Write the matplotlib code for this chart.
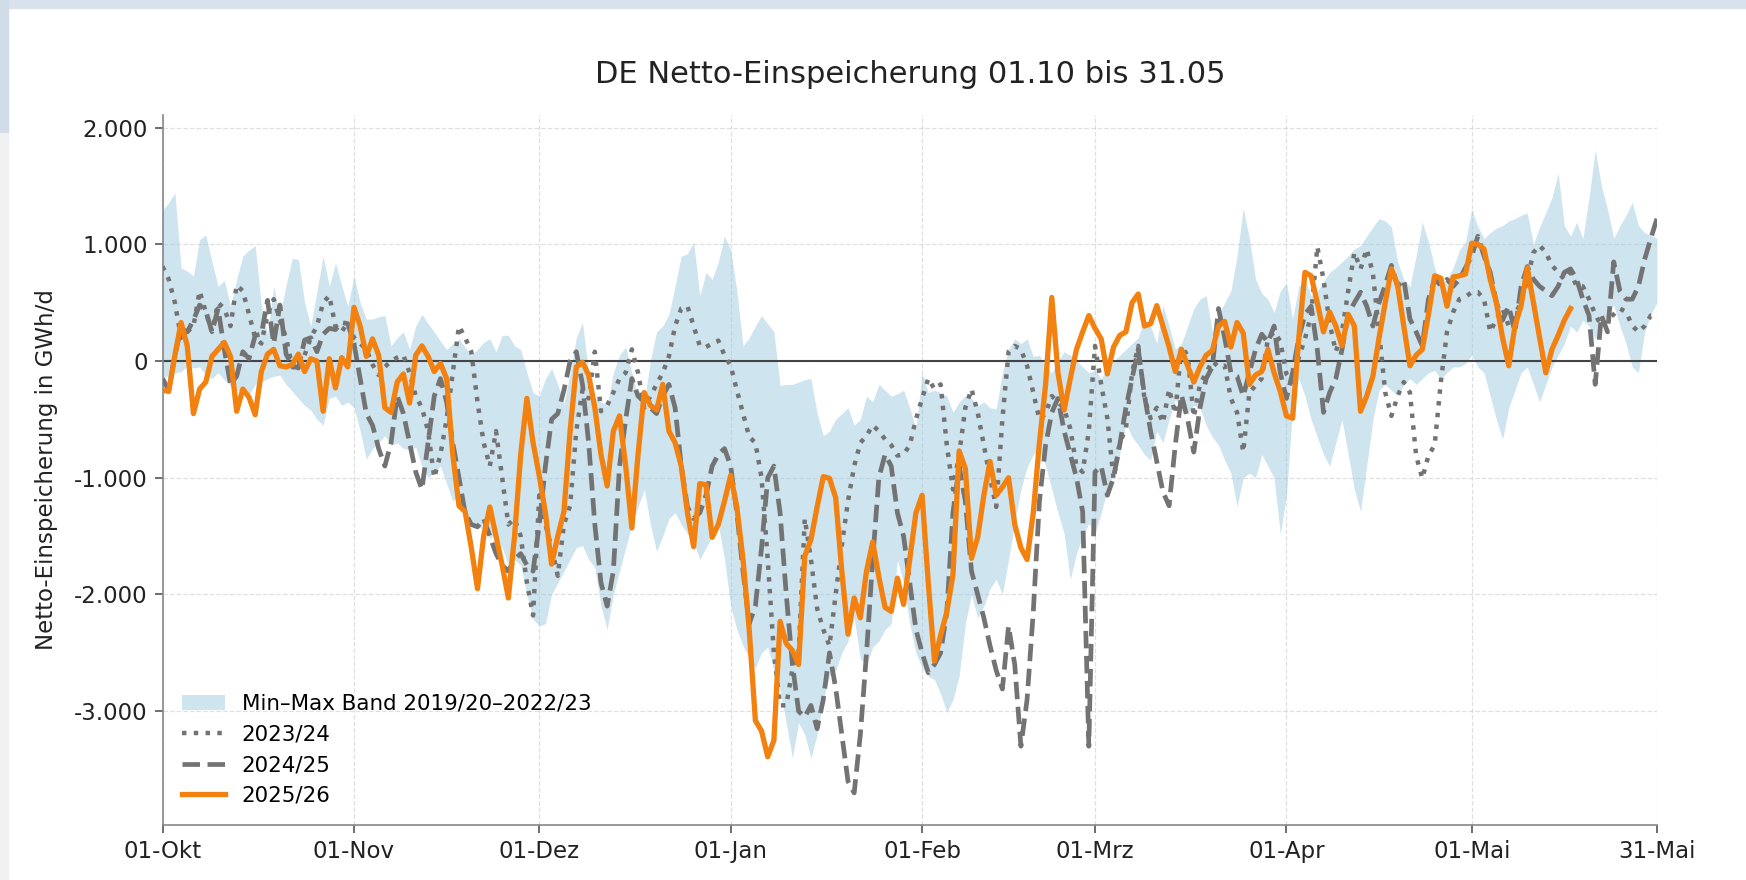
import numpy as np
import pandas as pd
import matplotlib
matplotlib.use("Agg")
import matplotlib.pyplot as plt
from matplotlib.patches import Rectangle
from matplotlib.ticker import FuncFormatter

# daily values in GWh/d, 01.10 .. 31.05
band_max = [
    1290, 1360, 1440, 800, 770, 730, 1040, 1080, 850, 640,
    690, 470, 700, 900, 950, 990, 470, 230, 640, 390,
    650, 880, 870, 500, 300, 600, 900, 640, 840, 650,
    470, 730, 500, 360, 360, 380, 390, 130, 200, 250,
    100, 300, 400, 320, 250, 170, 100, 150, 190, 120,
    45, 100, 160, 190, 80, 220, 220, 130, 100, -100,
    -270, -300, -150, -65, -200, -370, -100, 200, 330, -100,
    -320, -350, -380, -100, 50, 120, -100, -300, -350, 0,
    250, 300, 400, 640, 900, 920, 1020, 560, 760, 700,
    850, 1070, 950, 600, 130, 200, 300, 390, 320, 250,
    -210, -200, -200, -180, -160, -150, -450, -640, -600, -500,
    -450, -400, -550, -500, -300, -350, -200, -250, -300, -280,
    -250, -400, -580, -100, -270, -250, -270, -300, -440, -350,
    -300, -320, -380, -350, -400, -410, -100, 100, 190, 150,
    190, 40, 50, -50, -100, 0, 80, 50, 0, -50,
    -100, -80, -150, -50, 0, 50, 100, 150, 200, 360,
    300, 150, 475, 300, 100, 150, 300, 450, 530, 560,
    250, 400, 500, 600, 900, 1310, 1050, 700, 580, 530,
    415, 600, 670, 360, 640, 700, 560, 600, 680, 760,
    800, 850, 900, 960, 990, 1070, 1150, 1220, 1200, 1150,
    850, 700, 640, 900, 1190, 1020, 800, 640, 700, 800,
    950, 1020, 1300, 1150, 1050, 1100, 1140, 1160, 1200, 1220,
    1250, 1270, 1000, 1150, 1270, 1400, 1610, 1160, 1070, 1190,
    1050, 1400, 1810, 1500, 1300, 1050, 1160, 1250, 1360, 1160,
    1100, 1080, 1050,
]

band_min = [
    -150, -120, -100, -90, -40, -60, -50, -120, -150, -100,
    -160, -210, -250, -270, -290, -200, -180, -150, -130, -120,
    -200, -260, -320, -380, -420, -500, -550, -320, -300, -380,
    -350, -400, -600, -840, -750, -700, -640, -720, -700, -750,
    -760, -740, -900, -1000, -950, -900, -1050, -1200, -1150, -1300,
    -1380, -1410, -1450, -1520, -1480, -1600, -1750, -1700, -1750, -2000,
    -2210, -2270, -2250, -2000, -1900, -1800, -1700, -1600, -1580, -1700,
    -1770, -2100, -2300, -2000, -1800, -1600, -1400, -1250, -1100, -1400,
    -1630, -1500, -1350, -1300, -1400, -1480, -1550, -1700, -1600, -1500,
    -1400, -1700, -2100, -2300, -2440, -2550, -2630, -2500, -2450, -2650,
    -2820, -3100, -3400, -3100, -3200, -3400, -3200, -2900, -2700, -2650,
    -2500, -2400, -2200, -2550, -2600, -2450, -2400, -2300, -2250, -1700,
    -1900, -2250, -2500, -2630, -2700, -2730, -2850, -3010, -2900, -2700,
    -2250, -2000, -2200, -2100, -1950, -1870, -2000, -1700, -1390, -1100,
    -910, -800, -750, -900, -1100, -1300, -1480, -1870, -1650, -1500,
    -1390, -1480, -1300, -1100, -950, -800, -530, -650, -720, -800,
    -850, -600, -700, -500, -330, -420, -450, -380, -400, -550,
    -650, -720, -850, -960, -1245, -1000, -960, -1000, -800, -900,
    -1000, -1480, -1150, -400, -150, -300, -500, -650, -800, -900,
    -700, -500, -800, -1100, -1290, -900, -500, -250, -200, -250,
    -300, -200, -150, -200, -150, -100, -80, -150, -100, -50,
    -50, -20, 50, -50, -100, -300, -500, -670, -400, -250,
    -100, -50, -200, -350, -200, -50, 50, 150, 300, 250,
    350, 300, 190, 300, 400, 480, 300, 150, -50, -100,
    250, 400, 500,
]

s2023_24 = [
    810, 700, 500, 200, 250, 300, 600, 420, 250, 500,
    450, 300, 650, 600, 400, 200, 150, 400, 530, 350,
    200, -50, -70, 50, 200, 300, 500, 560, 300, 250,
    330, 200, 150, 100, -30, -120, -50, 0, 30, 50,
    -100, -300, -400, -600, -1000, -800, -500, -100, 300, 200,
    80, -350, -700, -900, -600, -1000, -1400, -1350, -1500, -1900,
    -2180, -1150, -1400, -1600, -1840, -1400, -1240, -600, -250, -320,
    80, -430, -380, -270, -150, -100, 100, -100, -400, -300,
    -200, -100, 40, 300, 450, 470, 300, 130, 120, 150,
    175, 50, -40, -250, -450, -650, -700, -1000, -1700, -2500,
    -2950, -2950, -2640, -2500, -1350, -1700, -2120, -2300, -2440, -2000,
    -1580, -1200, -900, -700, -640, -550, -600, -670, -720, -810,
    -800, -720, -500, -320, -150, -240, -200, -720, -1100, -800,
    -400, -240, -440, -720, -1000, -1250, -500, 80, 130, 100,
    -40, -270, -500, -450, -300, -350, -410, -580, -900, -950,
    -600, 130, -200, -490, -1010, -700, -580, -100, 130, -320,
    -490, -400, -530, -240, -450, 130, 45, -480, -200, -100,
    0, -50, -40, -320, -440, -780, -270, -210, -150, 190,
    250, 170, -110, -180, 30, 190, 400, 980, 700, 320,
    80, 250, 600, 930, 790, 960, 750, 250, -270, -470,
    -300, -180, -270, -810, -1005, -810, -720, -180, 250, 420,
    530, 550, 590, 590, 530, 250, 360, 450, 300, 400,
    500, 700, 930, 990, 930, 820, 760, 700, 760, 640,
    640, 530, 400, 300, 360, 400, 450, 420, 303, 250,
    300, 390, 390,
]

s2024_25 = [
    -150, -250, 50, 280, 250, 350, 480, 430, 250, 450,
    100, -200, -130, 80, 20, 220, 230, 520, 150, 480,
    60, -40, -60, 180, 200, 80, 230, 280, 270, 330,
    320, 150, -150, -450, -550, -750, -900, -700, -300, -450,
    -700, -950, -1100, -700, -300, -150, -350, -700, -1000, -1300,
    -1400, -1420, -1350, -1500, -1650, -1750, -1800, -1700, -1650, -1750,
    -1800, -1400, -900, -500, -450, -250, 0, 80, -200, -700,
    -1400, -1900, -2100, -1800, -900, -500, -150, -300, -350, -400,
    -450, -300, -200, -400, -900, -1250, -1350, -1300, -1150, -900,
    -800, -750, -900, -1300, -1800, -2250, -2100, -1600, -1000, -900,
    -1300, -2000, -2600, -3000, -3050, -2950, -3150, -2900, -2500, -2800,
    -3200, -3600, -3700, -3200, -2500, -1700, -1000, -800, -900, -1300,
    -1500, -1900, -2300, -2500, -2670, -2600, -2500, -2150, -1300, -900,
    -1200, -1800, -2000, -2200, -2440, -2650, -2810, -2270, -2600, -3300,
    -2900, -2150, -1200, -720, -440, -320, -600, -800, -1000, -1290,
    -3300, -950, -900, -1150, -1000, -720, -400, -150, 100, -290,
    -600, -860, -1120, -1240, -720, -290, -500, -780, -400, -150,
    -50, 450, 200, -100, -130, -300, -100, 100, 230, 160,
    300, -100, -320, -100, 200, 400, 470, 100, -440, -270,
    -150, 100, 400, 500, 590, 470, 300, 500, 650, 820,
    640, 700, 360, 250, 130, 530, 700, 650, 700, 640,
    700, 800, 900, 1070, 900, 760, 500, 350, 470, 250,
    640, 810, 700, 640, 600, 560, 640, 760, 790, 700,
    530, 390, -200, 390, 250, 850, 600, 530, 530, 640,
    870, 1050, 1220,
]

s2025_26 = [
    -250, -260, 50, 330, 130, -450, -240, -180, 40, 100,
    160, 40, -430, -240, -310, -460, -90, 60, 100, -40,
    -50, -30, 60, -90, 20, 0, -430, 20, -230, 30,
    -50, 460, 300, 40, 190, 50, -400, -440, -180, -110,
    -360, 50, 130, 40, -90, -20, -150, -800, -1240, -1290,
    -1600, -1950, -1500, -1250, -1500, -1750, -2030, -1500, -800, -320,
    -700, -980, -1300, -1740, -1500, -1290, -600, -50, -10, -120,
    -400, -800, -1070, -600, -470, -900, -1430, -800, -270, -380,
    -420, -200, -600, -700, -900, -1300, -1590, -1050, -1060, -1510,
    -1400, -1200, -980, -1250, -1700, -2300, -3080, -3170, -3390, -3250,
    -2230, -2420, -2480, -2600, -1670, -1530, -1250, -990, -1005, -1170,
    -1800, -2340, -2030, -2200, -1800, -1550, -1850, -2110, -2145, -1860,
    -2085, -1700, -1300, -1150, -1900, -2570, -2350, -2150, -1830, -770,
    -920, -1690, -1510, -1150, -860, -1150, -1080, -1000, -1400, -1600,
    -1700, -1300, -700, -200, 545, -100, -420, -150, 100, 250,
    390, 280, 190, -110, 120, 220, 250, 500, 575, 300,
    320, 475, 300, 120, -90, 100, -40, -180, -50, 50,
    90, 300, 340, 120, 330, 240, -200, -120, -90, 100,
    -100, -260, -470, -490, 200, 760, 730, 500, 250, 420,
    300, 130, 400, 300, -430, -300, -130, 200, 500, 790,
    650, 300, -40, 50, 100, 400, 730, 710, 470, 720,
    730, 745, 1010, 1000, 960, 700, 500, 200, -40, 300,
    475, 800, 500, 200, -100, 100, 220, 350, 450,
]

tick_dates = ["2025-10-01", "2025-11-01", "2025-12-01", "2026-01-01", "2026-02-01",
              "2026-03-01", "2026-04-01", "2026-05-01", "2026-05-31"]
tick_labels = ["01-Okt", "01-Nov", "01-Dez", "01-Jan", "01-Feb",
               "01-Mrz", "01-Apr", "01-Mai", "31-Mai"]

days = pd.date_range("2025-10-01", "2026-05-31", freq="D")
days_cur = days[:len(s2025_26)]

fig = plt.figure(figsize=(17.46, 8.8), dpi=100)

# screenshot frame
fig.add_artist(Rectangle((0, 1 - 8 / 880), 1, 8 / 880, transform=fig.transFigure,
                         color="#d7e2ec", zorder=0))
fig.add_artist(Rectangle((0, 1 - 133 / 880), 8 / 1746, 133 / 880, transform=fig.transFigure,
                         color="#d0dce8", zorder=0))
fig.add_artist(Rectangle((0, 0), 8 / 1746, 1 - 133 / 880, transform=fig.transFigure,
                         color="#eef0f2", zorder=0))

ax = fig.add_axes([0.0931, 0.0625, 0.8559, 0.8068])

ax.fill_between(days, band_min, band_max, color="#9ecae1", alpha=0.5, linewidth=0,
                label="Min\u2013Max Band 2019/20\u20132022/23", zorder=1)
ax.axhline(0, color="#444444", linewidth=1.5, zorder=2)
ax.plot(days, s2023_24, color="#737373", linestyle=":", linewidth=3.2, label="2023/24", zorder=3)
ax.plot(days, s2024_25, color="#737373", linestyle="--", linewidth=3.4, label="2024/25", zorder=4)
ax.plot(days_cur, s2025_26, color="#f28110", linewidth=3.8, label="2025/26", zorder=5)

ax.set_xlim(pd.Timestamp("2025-10-01"), pd.Timestamp("2026-05-31"))
ax.set_ylim(-3975, 2108)
ax.set_xticks(pd.to_datetime(tick_dates))
ax.set_xticklabels(tick_labels)
ax.set_yticks([-3000, -2000, -1000, 0, 1000, 2000])
ax.yaxis.set_major_formatter(FuncFormatter(lambda v, p: f"{v:,.0f}".replace(",", ".")))

ax.grid(True, linestyle="--", linewidth=0.9, color="#cccccc", alpha=0.6)
ax.set_axisbelow(True)
for side in ["top", "right"]:
    ax.spines[side].set_visible(False)
for side in ["left", "bottom"]:
    ax.spines[side].set_color("#888888")
    ax.spines[side].set_linewidth(1.2)
ax.tick_params(axis="both", labelsize=16.5, length=5.5, width=1.2, pad=5,
               color="#555555", labelcolor="#222222")

ax.set_title("DE Netto-Einspeicherung 01.10 bis 31.05", fontsize=22, pad=23, color="#222222")
ax.set_ylabel("Netto-Einspeicherung in GWh/d", fontsize=16.5, labelpad=11.5, color="#222222")

ax.legend(loc="lower left", frameon=False, fontsize=15.4)

fig.savefig("out.png", dpi=100)
